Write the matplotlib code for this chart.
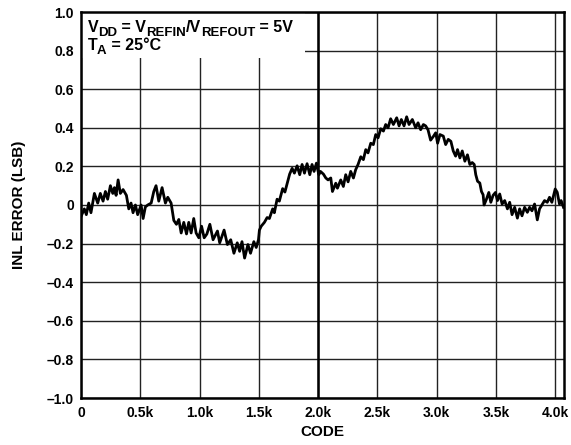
import matplotlib
matplotlib.use('Agg')
import matplotlib.pyplot as plt
from matplotlib.patches import Rectangle

plt.rcParams['font.family'] = ['Liberation Sans', 'DejaVu Sans']
plt.rcParams['font.weight'] = 'bold'

# INL error (code, LSB)
codes = [
    0, 28, 45, 65, 84, 113, 141, 163, 186, 206, 225, 248, 268, 282, 296, 313,
    332, 355, 383, 403, 422, 439, 459, 478, 507, 524, 543, 563, 592, 614, 633,
    656, 684, 712, 732, 760, 783, 805, 825, 845, 867, 890, 909, 929, 951, 971,
    994, 1017, 1039, 1062, 1087, 1114, 1151, 1170, 1207, 1235, 1263, 1290, 1318,
    1338, 1358, 1380, 1408, 1430, 1458, 1478, 1497, 1505, 1520, 1547, 1570, 1589,
    1617, 1631, 1654, 1673, 1701, 1720, 1743, 1760, 1781, 1800, 1823, 1845, 1865,
    1885, 1907, 1930, 1949, 1966, 1986, 2006, 2020, 2045, 2065, 2084, 2107, 2121,
    2149, 2163, 2191, 2213, 2233, 2253, 2275, 2298, 2317, 2337, 2360, 2382, 2402,
    2421, 2444, 2466, 2486, 2506, 2528, 2551, 2570, 2590, 2612, 2635, 2663, 2683,
    2702, 2725, 2747, 2767, 2795, 2823, 2843, 2865, 2888, 2907, 2927, 2949, 2972,
    2992, 3008, 3028, 3056, 3076, 3098, 3120, 3140, 3160, 3176, 3196, 3216, 3238,
    3260, 3280, 3300, 3317, 3330, 3345, 3364, 3378, 3392, 3400, 3420, 3440, 3457,
    3476, 3496, 3513, 3532, 3552, 3574, 3597, 3616, 3636, 3658, 3681, 3700, 3720,
    3742, 3765, 3784, 3804, 3826, 3849, 3868, 3888, 3910, 3933, 3952, 3972, 4000,
    4017, 4036, 4050, 4070,
]
inl = [
    -0.06, -0.02, -0.05, 0.01, -0.04, 0.06, 0.01, 0.06, 0.02, 0.07, 0.03, 0.10,
    0.06, 0.09, 0.05, 0.13, 0.06, 0.08, 0.05, -0.02, 0.01, -0.04, 0.00, -0.05,
    0.00, -0.07, -0.01, 0.00, 0.01, 0.07, 0.10, 0.02, 0.09, 0.01, 0.04, 0.01,
    -0.08, -0.10, -0.075, -0.145, -0.09, -0.15, -0.09, -0.145, -0.07, -0.145,
    -0.17, -0.11, -0.17, -0.15, -0.10, -0.18, -0.135, -0.196, -0.13, -0.205,
    -0.18, -0.25, -0.196, -0.24, -0.19, -0.275, -0.205, -0.25, -0.19, -0.22,
    -0.18, -0.13, -0.11, -0.09, -0.065, -0.07, -0.02, -0.04, 0.03, 0.02, 0.085,
    0.067, 0.12, 0.16, 0.19, 0.165, 0.203, 0.157, 0.21, 0.165, 0.214, 0.157,
    0.21, 0.174, 0.217, 0.157, 0.174, 0.16, 0.14, 0.13, 0.14, 0.07, 0.113,
    0.087, 0.13, 0.096, 0.157, 0.12, 0.174, 0.14, 0.183, 0.21, 0.25, 0.235,
    0.287, 0.27, 0.32, 0.313, 0.365, 0.348, 0.395, 0.383, 0.417, 0.40, 0.447,
    0.417, 0.452, 0.41, 0.443, 0.41, 0.457, 0.417, 0.443, 0.40, 0.426, 0.39,
    0.417, 0.41, 0.39, 0.336, 0.355, 0.374, 0.32, 0.365, 0.357, 0.313, 0.34,
    0.33, 0.28, 0.253, 0.287, 0.244, 0.28, 0.227, 0.26, 0.21, 0.22, 0.21,
    0.157, 0.123, 0.114, 0.07, 0.053, 0.0, 0.03, 0.065, 0.014, 0.05, 0.065,
    0.023, 0.057, 0.005, 0.023, -0.02, 0.014, -0.05, -0.012, -0.068, -0.02,
    -0.056, -0.012, -0.038, -0.012, -0.03, 0.005, -0.077, -0.02, 0.0, 0.023,
    0.014, 0.04, 0.014, 0.083, 0.066, 0.005, 0.023, -0.012,
]

x_ticks = [0, 500, 1000, 1500, 2000, 2500, 3000, 3500, 4000]
x_labels = ['0', '0.5k', '1.0k', '1.5k', '2.0k', '2.5k', '3.0k', '3.5k', '4.0k']
y_ticks = [-1.0, -0.8, -0.6, -0.4, -0.2, 0, 0.2, 0.4, 0.6, 0.8, 1.0]
y_labels = ['\u20131.0', '\u20130.8', '\u20130.6', '\u20130.4', '\u20130.2', '0',
            '0.2', '0.4', '0.6', '0.8', '1.0']

# conditions text, as (text, is_subscript) runs per line
cond_line1 = [('V', False), ('DD', True), (' = V', False), ('REFIN', True),
              ('/V', False), ('REFOUT', True), (' = 5V', False)]
cond_line2 = [('T', False), ('A', True), (' = 25\u00b0C', False)]

W, H = 571, 445
fig = plt.figure(figsize=(W / 100, H / 100), dpi=100)
ax = fig.add_axes([81 / W, 1 - 398 / H, (563.5 - 81) / W, (398 - 12) / H])

ax.plot(codes, inl, color='black', lw=2.0, zorder=3)

ax.set_xlim(0, 4070)
ax.set_ylim(-1.0, 1.0)
ax.set_xticks(x_ticks)
ax.set_xticklabels(x_labels)
ax.set_yticks(y_ticks)
ax.set_yticklabels(y_labels)
ax.tick_params(length=0, labelsize=10)
ax.tick_params(axis='x', pad=6)
ax.tick_params(axis='y', pad=5)
ax.grid(True, color='#222222', lw=1.0)
ax.axvline(2000, color='black', lw=1.8, zorder=1.6)

for sp in ax.spines.values():
    sp.set_linewidth(1.8)

ax.set_xlabel('CODE', fontsize=11, fontweight='bold', labelpad=3)
ax.set_ylabel('INL ERROR (LSB)', fontsize=11, fontweight='bold', labelpad=15)

# white box hiding the grid behind the conditions text
ax.add_patch(Rectangle((0, 0.882), 0.464, 0.118, transform=ax.transAxes,
                       facecolor='white', edgecolor='none', zorder=2))

renderer = fig.canvas.get_renderer()


def draw_runs(runs, x0, baseline):
    x = x0
    for s, sub in runs:
        y = baseline + (4 if sub else 0)
        t = fig.text(x / W, 1 - y / H, s, fontsize=9.5 if sub else 11.5,
                     fontweight='bold', ha='left', va='baseline', zorder=5)
        x = t.get_window_extent(renderer).x1


draw_runs(cond_line1, 87.5, 31.5)
draw_runs(cond_line2, 87.5, 50.5)

fig.savefig('out.png', dpi=100)
